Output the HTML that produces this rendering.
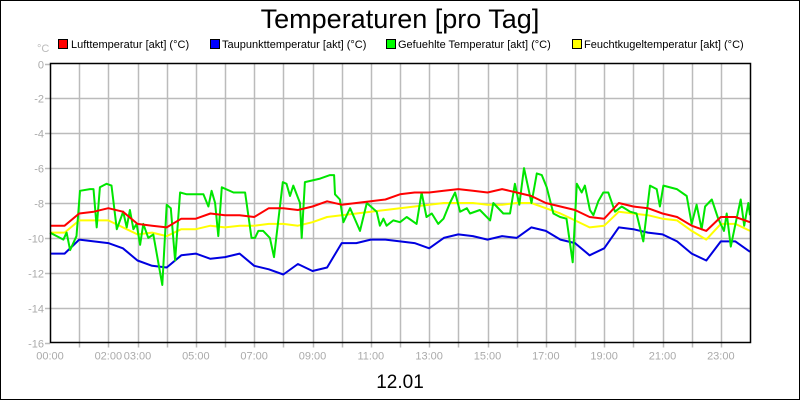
<!DOCTYPE html>
<html><head><meta charset="utf-8"><style>
html,body{margin:0;padding:0;background:#fff}
svg{display:block;font-family:"Liberation Sans",sans-serif}
</style></head><body>
<svg id="chart" width="800" height="400" viewBox="0 0 800 400">
<rect x="0.5" y="0.5" width="799" height="399" fill="#fff" stroke="#000"/>
<text x="400" y="28" text-anchor="middle" font-size="27" fill="#000">Temperaturen [pro Tag]</text>
<text x="37" y="52" font-size="11" fill="#bbb">°C</text>
<g>
<g><rect x="58.5" y="39.5" width="9" height="9" fill="#f00" stroke="#000"/><text x="71" y="48" font-size="11">Lufttemperatur [akt] (°C)</text></g>
<g><rect x="210.5" y="39.5" width="9" height="9" fill="#00f" stroke="#000"/><text x="222" y="48" font-size="11">Taupunkttemperatur [akt] (°C)</text></g>
<g><rect x="386.5" y="39.5" width="9" height="9" fill="#0f0" stroke="#000"/><text x="398" y="48" font-size="11">Gefuehlte Temperatur [akt] (°C)</text></g>
<g><rect x="572.5" y="39.5" width="9" height="9" fill="#ff0" stroke="#000"/><text x="584" y="48" font-size="11">Feuchtkugeltemperatur [akt] (°C)</text></g>
</g>
<g id="grid"></g>
<g id="series"></g>
<g id="axes"></g>
<text x="400" y="388" text-anchor="middle" font-size="19" fill="#000">12.01</text>
</svg>
<script>
const yTicks = [0,-2,-4,-6,-8,-10,-12,-14,-16];
const xTickLabels = ["00:00","02:00","03:00","05:00","07:00","09:00","11:00","13:00","15:00","17:00","19:00","21:00","23:00"];
const xTickHours = [0,2,3,5,7,9,11,13,15,17,19,21,23];
const times = [0,0.5,1,1.5,2,2.5,3,3.5,4,4.5,5,5.5,6,6.5,7,7.5,8,8.5,9,9.5,10,10.5,11,11.5,12,12.5,13,13.5,14,14.5,15,15.5,16,16.5,17,17.5,18,18.5,19,19.5,20,20.5,21,21.5,22,22.5,23,23.5,24];
const luft = [-9.3,-9.3,-8.6,-8.5,-8.3,-8.5,-9.2,-9.3,-9.4,-8.9,-8.9,-8.6,-8.7,-8.7,-8.8,-8.3,-8.3,-8.4,-8.2,-7.9,-8.1,-8.0,-7.9,-7.8,-7.5,-7.4,-7.4,-7.3,-7.2,-7.3,-7.4,-7.2,-7.4,-7.6,-8.0,-8.2,-8.4,-8.8,-8.9,-8.0,-8.2,-8.3,-8.6,-8.8,-9.3,-9.6,-8.8,-8.8,-9.1];
const feucht = [-9.7,-9.7,-9.0,-9.0,-9.0,-9.4,-9.8,-9.7,-9.9,-9.5,-9.5,-9.3,-9.4,-9.3,-9.3,-9.2,-9.2,-9.3,-9.1,-8.8,-8.7,-8.6,-8.5,-8.4,-8.3,-8.2,-8.1,-8.0,-8.0,-8.0,-8.1,-8.1,-8.0,-8.0,-8.3,-8.6,-9.0,-9.4,-9.3,-8.5,-8.6,-8.7,-8.9,-9.0,-9.6,-10.1,-9.2,-9.2,-9.6];
const tau = [-10.9,-10.9,-10.1,-10.2,-10.3,-10.6,-11.3,-11.6,-11.7,-11.0,-10.9,-11.2,-11.1,-10.9,-11.6,-11.8,-12.1,-11.5,-11.9,-11.7,-10.3,-10.3,-10.1,-10.1,-10.2,-10.3,-10.6,-10.0,-9.8,-9.9,-10.1,-9.9,-10.0,-9.4,-9.6,-10.1,-10.3,-11.0,-10.6,-9.4,-9.5,-9.7,-9.8,-10.2,-10.9,-11.3,-10.2,-10.2,-10.8];
const gefTimes = [0,0.23,0.46,0.57,0.69,0.91,1.03,1.37,1.49,1.6,1.71,1.94,2.11,2.29,2.51,2.63,2.74,2.86,2.97,3.09,3.2,3.37,3.54,3.85,4.0,4.14,4.29,4.46,4.69,5.26,5.43,5.54,5.66,5.77,5.89,6.29,6.69,6.91,7.03,7.14,7.31,7.54,7.68,7.98,8.11,8.23,8.34,8.57,8.63,8.74,9.26,9.6,9.74,9.77,9.94,10.06,10.29,10.63,10.86,11.2,11.31,11.43,11.54,11.77,12.0,12.23,12.57,12.74,12.91,13.09,13.31,13.49,13.71,13.89,14.06,14.29,14.4,14.74,15.09,15.2,15.54,15.77,15.94,16.09,16.25,16.51,16.69,16.86,17.03,17.26,17.49,17.71,17.92,18.06,18.23,18.34,18.51,18.63,18.8,18.97,19.14,19.37,19.6,19.89,20.11,20.34,20.57,20.8,20.91,21.03,21.49,21.83,22.0,22.17,22.34,22.46,22.69,22.91,23.11,23.2,23.34,23.49,23.68,23.8,23.94,24.0];
const gefuehlt = [-9.7,-9.9,-10.1,-9.7,-10.7,-9.9,-7.3,-7.2,-7.2,-9.4,-7.1,-6.9,-7.0,-9.5,-8.5,-9.4,-8.4,-9.5,-9.2,-10.4,-9.2,-10.0,-9.8,-12.7,-8.1,-8.3,-11.3,-7.4,-7.5,-7.5,-8.2,-7.3,-8.0,-9.9,-7.1,-7.4,-7.4,-10.0,-10.0,-9.6,-9.6,-10.0,-11.1,-6.8,-6.9,-7.6,-7.0,-8.0,-10.0,-6.8,-6.6,-6.4,-6.4,-7.5,-7.8,-9.1,-8.3,-9.6,-8.0,-8.5,-9.3,-8.9,-9.3,-9.0,-9.1,-8.8,-9.2,-7.4,-8.8,-8.6,-9.2,-8.9,-8.0,-7.4,-8.5,-8.3,-8.6,-8.4,-9.0,-8.0,-8.6,-8.6,-6.9,-8.1,-6.0,-8.0,-6.3,-6.4,-7.1,-8.6,-8.8,-8.9,-11.4,-6.9,-7.4,-7.0,-8.4,-8.7,-7.9,-7.4,-7.4,-8.5,-8.2,-8.5,-8.6,-10.2,-7.0,-7.2,-8.2,-7.0,-7.2,-7.6,-9.2,-8.1,-9.5,-8.2,-7.8,-8.9,-9.6,-8.6,-10.5,-9.3,-7.8,-9.3,-8.0,-8.7];

const X0=50, X1=750, Y0=63.5, Y1=342.5;
function xS(h){return X0+(X1-X0)*h/24;}
function yS(v){return Y0+(Y1-Y0)*(0-v)/16;}
const NS="http://www.w3.org/2000/svg";
function mk(tag,attrs,parent){const e=document.createElementNS(NS,tag);for(const k in attrs)e.setAttribute(k,attrs[k]);parent.appendChild(e);return e;}
const grid=document.getElementById('grid'), axes=document.getElementById('axes'), series=document.getElementById('series');
for(let h=1;h<24;h++){
  const l=mk('line',{x1:Math.round(xS(h))+0.5,x2:Math.round(xS(h))+0.5,y1:Y0,y2:Y1,stroke:'#bbb','stroke-width':1.5},grid);
  
  
  const t=mk('line',{x1:Math.round(xS(h))+0.5,x2:Math.round(xS(h))+0.5,y1:Y1,y2:Y1+5,stroke:'#bbb','stroke-width':1.5},axes);
  
  
}
yTicks.forEach(v=>{
  const y=Math.round(yS(v))+0.5;
  if(v<0&&v>-16){const l=mk('line',{x1:X0,x2:X1,y1:y,y2:y,stroke:'#bbb','stroke-width':1.5},grid);
  
  }
  const t=mk('line',{x1:X0-5,x2:X0,y1:y,y2:y,stroke:'#bbb','stroke-width':1.5},axes);
  
  
  const tx=mk('text',{x:X0-6,y:y+4,'text-anchor':'end','font-size':11,fill:'#aaa'},axes);
  tx.textContent=String(v);
  
  
});
xTickLabels.forEach((lab,i)=>{
  const tx=mk('text',{x:xS(xTickHours[i]),y:Y1+17,'text-anchor':'middle','font-size':11,fill:'#aaa'},axes);
  tx.textContent=lab;
  
  
});
const frame=mk('rect',{x:X0+0.5,y:Y0,width:X1-X0,height:Y1-Y0,fill:'none',stroke:'#000','stroke-width':1.5},axes);


function line(ts,vals,color,name){
  const d=vals.map((v,i)=>(i?'L':'M')+xS(ts[i]).toFixed(1)+' '+yS(v).toFixed(1)).join(' ');
  const p=mk('path',{d:d,fill:'none',stroke:color,'stroke-width':2,'stroke-linejoin':'round'},series);
  
  
}
line(times,tau,'#0000e0','line-taupunkttemperatur');
line(times,feucht,'#ffff00','line-feuchtkugeltemperatur');
line(gefTimes,gefuehlt,'#00e600','line-gefuehlte-temperatur');
line(times,luft,'#ff0000','line-lufttemperatur');
</script>
</body></html>
